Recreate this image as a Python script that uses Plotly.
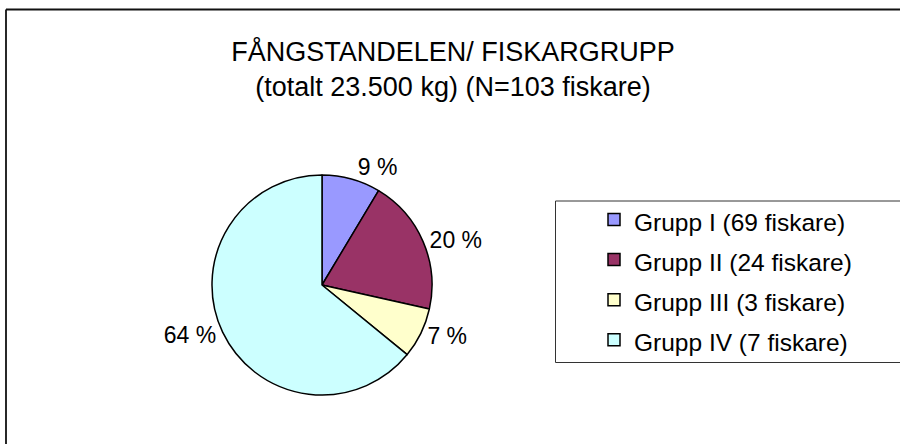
import plotly.graph_objects as go

# Data
groups = ["Grupp I (69 fiskare)", "Grupp II (24 fiskare)",
          "Grupp III (3 fiskare)", "Grupp IV (7 fiskare)"]
shares = [8.6, 19.9, 7.4, 64.1]  # percent of catch
colors = ["#9999FF", "#993366", "#FFFFCC", "#CCFFFF"]
title_lines = ["FÅNGSTANDELEN/ FISKARGRUPP", "(totalt 23.500 kg) (N=103 fiskare)"]

W, H = 900, 444
FONT = "Liberation Sans, Arial, sans-serif"

legend_labels = ['<span style="font-size:24.5px">%s</span>' % g for g in groups]

fig = go.Figure(go.Pie(
    labels=legend_labels,
    values=shares,
    sort=False,
    direction="clockwise",
    rotation=0,
    marker=dict(colors=colors, line=dict(color="black", width=1.5)),
    texttemplate="%{value:.0f} %",
    textposition="outside",
    textfont=dict(family=FONT, size=23, color="black"),
    outsidetextfont=dict(family=FONT, size=23, color="black"),
    hoverinfo="label+percent",
    domain=dict(x=[212 / W, 432 / W], y=[(H - 395) / H, (H - 175) / H]),
    showlegend=True,
))


def seg(x0, y0, x1, y1, color, width):
    return dict(type="line", xref="paper", yref="paper",
                x0=x0 / W, x1=x1 / W, y0=(H - y0) / H, y1=(H - y1) / H,
                line=dict(color=color, width=width))


frame = [
    seg(6, 9.5, 960, 9.5, "#111", 1.8),     # chart area top edge
    seg(6, 9.5, 6, 500, "#111", 1.8),       # chart area left edge
]
legend_frame = [
    seg(555.5, 201, 960, 201, "#333", 1),
    seg(555.5, 201, 555.5, 362.5, "#333", 1),
    seg(555.5, 362.5, 960, 362.5, "#333", 1),
]

fig.update_layout(
    width=W, height=H,
    margin=dict(l=0, r=0, t=0, b=0),
    paper_bgcolor="white",
    plot_bgcolor="white",
    font=dict(family=FONT, color="black"),
    title=dict(
        text="<br>".join(title_lines),
        font=dict(family=FONT, size=27, color="black"),
        x=453 / W, xanchor="center",
        yref="container", y=1 - 61 / H, yanchor="top",
    ),
    legend=dict(
        x=594 / W, xanchor="left",
        y=(H - 280) / H, yanchor="middle",
        font=dict(family=FONT, size=28.5, color="black"),
        bgcolor="rgba(0,0,0,0)",
        borderwidth=0,
        traceorder="normal",
    ),
    shapes=frame + legend_frame,
)

fig.write_html(
    "out.html",
    config={"displayModeBar": False},
    post_script=(
        "document.documentElement.style.margin='0';"
        "document.documentElement.style.overflow='hidden';"
        "document.body.style.margin='0';document.body.style.overflow='hidden';"
    ),
)
